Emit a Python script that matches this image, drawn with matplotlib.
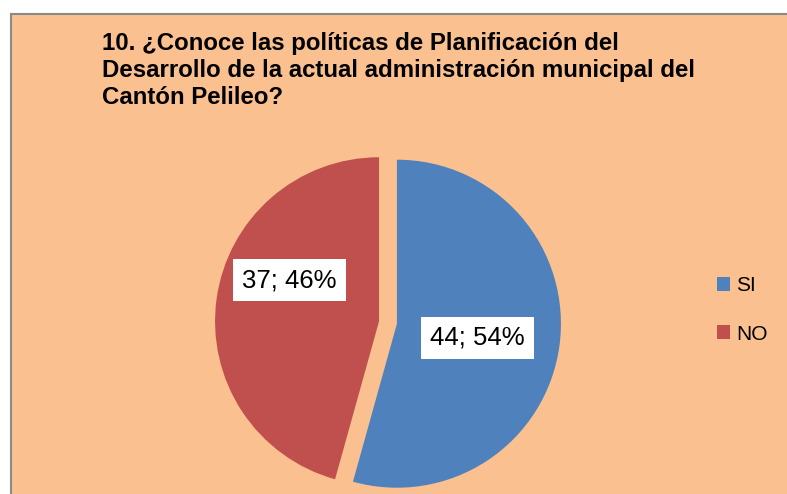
import numpy as np
import matplotlib.pyplot as plt
from matplotlib.patches import Rectangle, Patch

plt.rcParams['font.family'] = ['Liberation Sans', 'DejaVu Sans']

categories = ['SI', 'NO']
counts = [44, 37]
colors = ['#4F81BD', '#C0504D']
title = ('10. ¿Conoce las políticas de Planificación del\n'
         'Desarrollo de la actual administración municipal del\n'
         'Cantón Pelileo?')

fig = plt.figure(figsize=(7.87, 4.94), dpi=100, facecolor='white')

# chart area with gray frame (right/bottom edges cut off like the screenshot)
bg = Rectangle((11 / 787, -0.1), 1.2, 1 - 14 / 494 + 0.1, transform=fig.transFigure,
               facecolor='#FAC090', edgecolor='#898989', linewidth=1.5, zorder=-5)
fig.patches.append(bg)

ax = fig.add_axes([0.1804, -0.1508, 0.6252, 0.996])
ax.set_zorder(2)

total = sum(counts)
wedges, _ = ax.pie(counts, colors=colors, startangle=90, counterclock=False,
                   explode=[0.055, 0.055], radius=1.0,
                   wedgeprops=dict(linewidth=0))
ax.set_xlim(-1.5, 1.5)
ax.set_ylim(-1.5, 1.5)
ax.axis('off')

# label placement: (distance from wedge center, angle in degrees)
label_pos = [(0.5, -10), (0.6, 155.5)]
for w, c, (r, a) in zip(wedges, counts, label_pos):
    cx, cy = w.center
    x = cx + r * np.cos(np.radians(a))
    y = cy + r * np.sin(np.radians(a))
    ax.text(x, y, f'{c}; {round(c / total * 100)}%', ha='center', va='center',
            fontsize=18.5, color='black',
            bbox=dict(facecolor='white', edgecolor='none', pad=6.5))

fig.text(102 / 787, 1 - 32 / 494, title, ha='left', va='top', fontsize=17.3,
         fontweight='bold', linespacing=1.22)

handles = [Patch(facecolor=c, edgecolor='none') for c in colors]
fig.legend(handles, categories, loc='center left', bbox_to_anchor=(698 / 787, 1 - 310 / 494),
           frameon=False, fontsize=15, handlelength=0.65, handleheight=0.65,
           handletextpad=0.3, labelspacing=1.4)

fig.savefig('out.png', dpi=100, facecolor=fig.get_facecolor())
